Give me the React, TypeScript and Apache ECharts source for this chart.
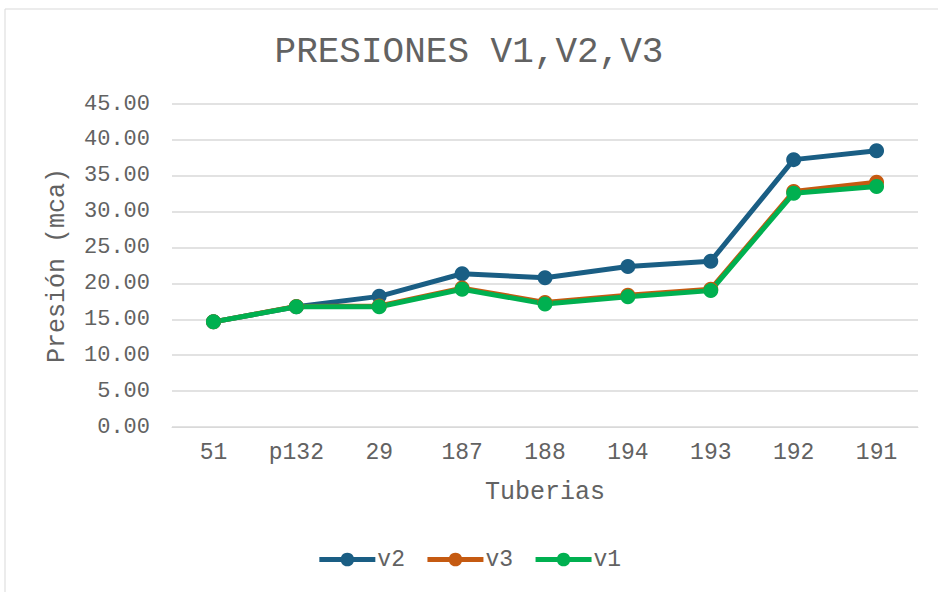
import React, { useEffect, useRef } from "react";
import * as echarts from "echarts";

const categories = ["51", "p132", "29", "187", "188", "194", "193", "192", "191"];
const v2 = [14.65, 16.75, 18.2, 21.35, 20.8, 22.35, 23.1, 37.25, 38.5];
const v3 = [14.65, 16.8, 16.85, 19.35, 17.35, 18.35, 19.2, 32.8, 34.1];
const v1 = [14.65, 16.75, 16.75, 19.2, 17.15, 18.15, 19.0, 32.55, 33.5];

const FONT = "'Liberation Mono', 'Courier New', monospace";
const TXT = "#626262";

export default function App() {
  const ref = useRef<HTMLDivElement>(null);
  useEffect(() => {
    const chart = echarts.init(ref.current!, null, { renderer: "svg" });
    const mk = (name: string, data: number[], color: string) => ({
      name,
      type: "line",
      data,
      symbol: "circle",
      symbolSize: 15,
      lineStyle: { width: 5, color },
      itemStyle: { color },
    });
    chart.setOption({
      animation: false,
      backgroundColor: "#fff",
      title: {
        text: "PRESIONES V1,V2,V3",
        left: "center",
        top: 29,
        textStyle: { fontFamily: FONT, fontSize: 36, fontWeight: "normal", color: TXT },
      },
      graphic: [
        {
          type: "rect",
          shape: { x: 5, y: 9, width: 940, height: 590 },
          style: { fill: "none", stroke: "#d9d9d9", lineWidth: 1 },
          silent: true,
        },
      ],
      legend: {
        bottom: 16,
        left: "center",
        itemWidth: 56,
        itemHeight: 17,
        itemGap: 20,
        lineStyle: { width: 5 },
        textStyle: { fontFamily: FONT, fontSize: 23, color: TXT, padding: [0, 0, 0, -3] },
        data: ["v2", "v3", "v1"],
      },
      grid: { left: 172, right: 20, top: 104, bottom: 165, containLabel: false },
      xAxis: {
        type: "category",
        data: categories,
        name: "Tuberias",
        nameLocation: "middle",
        nameGap: 53,
        nameTextStyle: { fontFamily: FONT, fontSize: 25, color: TXT },
        axisLine: { lineStyle: { color: "#d9d9d9" } },
        axisTick: { show: false },
        axisLabel: { fontFamily: FONT, fontSize: 23, color: TXT, margin: 14 },
      },
      yAxis: {
        type: "value",
        min: 0,
        max: 45,
        interval: 5,
        name: "Presión (mca)",
        nameLocation: "middle",
        nameGap: 102,
        nameTextStyle: { fontFamily: FONT, fontSize: 25, color: TXT },
        axisLine: { show: false },
        axisTick: { show: false },
        splitLine: { lineStyle: { color: "#d9d9d9", width: 1.5 } },
        axisLabel: {
          fontFamily: FONT,
          fontSize: 22,
          color: TXT,
          margin: 22,
          formatter: (v: number) => v.toFixed(2),
        },
      },
      series: [mk("v2", v2, "#1a5e84"), mk("v3", v3, "#c55a11"), mk("v1", v1, "#00b050")],
    });
    return () => chart.dispose();
  }, []);
  return (
    <div
      ref={ref}
      style={{ position: "fixed", left: 0, top: 0, width: 938, height: 592 }}
    />
  );
}
